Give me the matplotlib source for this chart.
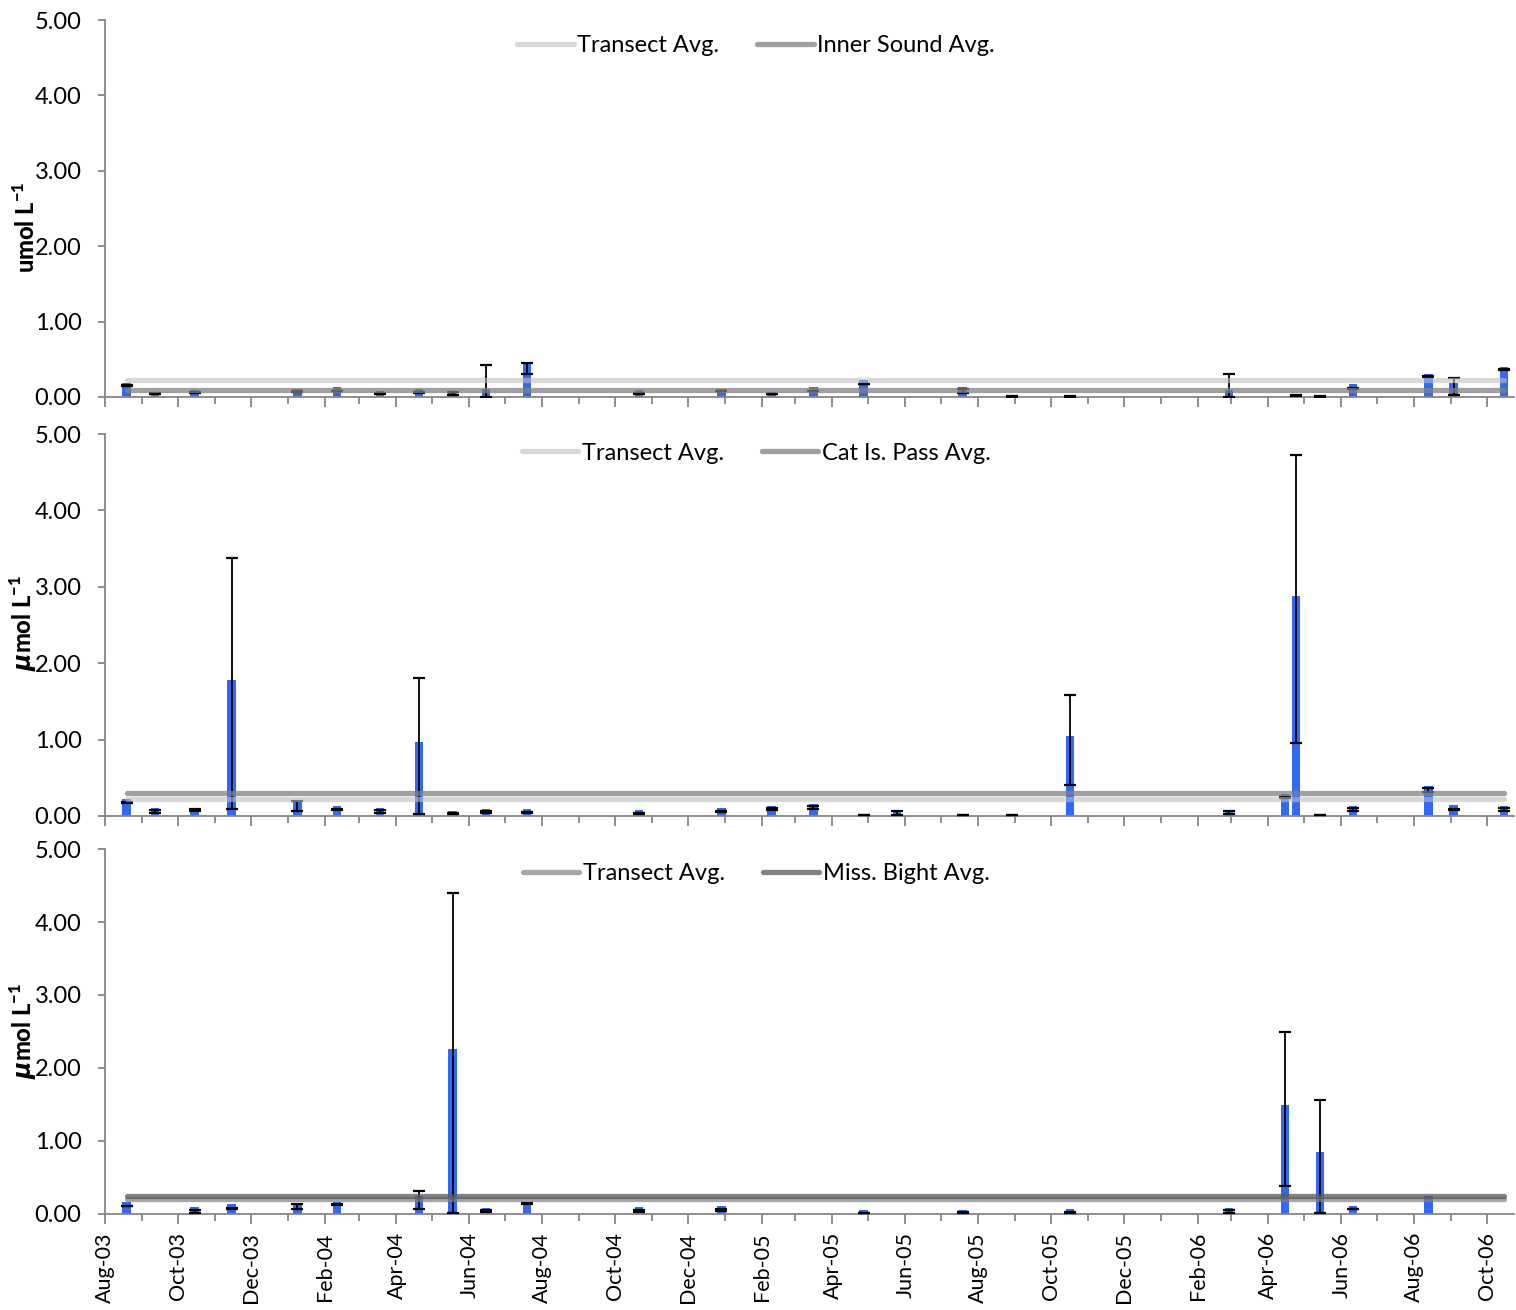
import numpy as np
import matplotlib.pyplot as plt
import matplotlib.dates as mdates
from matplotlib.ticker import FormatStrFormatter, MultipleLocator

plt.rcParams['font.family'] = ['Lato', 'DejaVu Sans']
plt.rcParams['mathtext.fontset'] = 'custom'
plt.rcParams['mathtext.rm'] = 'Lato'
plt.rcParams['mathtext.it'] = 'DejaVu Sans:italic:bold'

nan = np.nan

# sampling dates (shared by the three stations)
dates = np.array([
    '2003-08-19', '2003-09-12', '2003-10-15', '2003-11-15', '2004-01-09',
    '2004-02-11', '2004-03-18', '2004-04-20', '2004-05-18', '2004-06-15',
    '2004-07-19', '2004-10-21', '2004-12-29', '2005-02-09', '2005-03-16',
    '2005-04-27', '2005-05-25', '2005-07-19', '2005-08-29', '2005-10-17',
    '2006-02-27', '2006-04-15', '2006-04-24', '2006-05-14', '2006-06-11',
    '2006-08-13', '2006-09-03', '2006-10-15'], dtype='datetime64[D]')

# Inner Sound
inner_mean = [0.18, 0.06, 0.09, nan, 0.10, 0.13, 0.08, 0.10, 0.08, 0.11,
              0.44, 0.09, 0.11, 0.07, 0.13, 0.22, nan, 0.13, 0.03, 0.005,
              0.09, nan, 0.02, 0.005, 0.17, 0.31, 0.18, 0.40]
inner_lo = [0.145, 0.045, 0.055, nan, 0.065, 0.075, 0.045, 0.055, 0.03, 0.0,
            0.30, 0.045, 0.075, 0.035, 0.075, 0.165, nan, 0.05, 0.005, 0.004,
            0.0, nan, 0.018, 0.004, 0.105, 0.265, 0.02, 0.355]
inner_hi = [0.155, 0.055, 0.065, nan, 0.075, 0.085, 0.055, 0.065, 0.07, 0.42,
            0.45, 0.055, 0.085, 0.045, 0.085, 0.175, nan, 0.11, 0.015, 0.006,
            0.30, nan, 0.022, 0.006, 0.115, 0.275, 0.25, 0.365]
inner_avg = 0.09
transect_avg_1 = 0.22

# Cat Island Pass
cat_mean = [0.22, 0.11, 0.11, 1.78, 0.19, 0.13, 0.10, 0.97, 0.07, 0.09,
            0.09, 0.08, 0.10, 0.13, 0.16, 0.01, 0.06, 0.03, 0.01, 1.05,
            0.08, 0.29, 2.88, 0.01, 0.13, 0.39, 0.14, 0.13]
cat_lo = [0.175, 0.035, 0.06, 0.09, 0.06, 0.085, 0.035, 0.03, 0.025, 0.035,
          0.045, 0.03, 0.055, 0.08, 0.09, 0.008, 0.01, 0.008, 0.008, 0.40,
          0.03, 0.235, 0.96, 0.008, 0.06, 0.31, 0.085, 0.06]
cat_hi = [0.185, 0.08, 0.09, 3.38, 0.19, 0.095, 0.08, 1.81, 0.035, 0.07,
          0.055, 0.04, 0.065, 0.10, 0.13, 0.012, 0.065, 0.015, 0.012, 1.59,
          0.07, 0.245, 4.72, 0.012, 0.11, 0.37, 0.095, 0.11]
cat_avg = 0.30
transect_avg_2 = 0.22

# Mississippi Bight
bight_mean = [0.16, nan, 0.09, 0.13, 0.15, 0.17, nan, 0.25, 2.26, 0.08,
              0.17, 0.09, 0.11, nan, nan, 0.05, 0.003, 0.055, 0.003, 0.065,
              0.08, 1.49, nan, 0.85, 0.11, 0.25, nan, nan]
bight_lo = [0.105, nan, 0.02, 0.075, 0.07, 0.125, nan, 0.065, 0.02, 0.03,
            0.135, 0.03, 0.04, nan, nan, 0.01, nan, 0.02, nan, 0.02,
            0.02, 0.39, nan, 0.02, 0.065, nan, nan, nan]
bight_hi = [0.115, nan, 0.055, 0.085, 0.14, 0.135, nan, 0.31, 4.40, 0.06,
            0.145, 0.05, 0.075, nan, nan, 0.02, nan, 0.03, nan, 0.03,
            0.05, 2.49, nan, 1.56, 0.075, nan, nan, nan]
bight_avg = 0.25
transect_avg_3 = 0.21

panels = [
    (inner_mean, inner_lo, inner_hi, transect_avg_1, inner_avg, 'Inner Sound Avg.',
     r'umol L$^{\mathregular{-1}}$', ('#bfbfbf', 0.6), ('#808080', 0.75), 0.45, 0.932),
    (cat_mean, cat_lo, cat_hi, transect_avg_2, cat_avg, 'Cat Is. Pass Avg.',
     r'$\mu$mol L$^{\mathregular{-1}}$', ('#bfbfbf', 0.6), ('#808080', 0.75), 0.505, 0.95),
    (bight_mean, bight_lo, bight_hi, transect_avg_3, bight_avg, 'Miss. Bight Avg.',
     r'$\mu$mol L$^{\mathregular{-1}}$', ('#808080', 0.7), ('#595959', 0.75), 0.5, 0.932),
]

fig = plt.figure(figsize=(15.16, 13.10), dpi=100)
boxes = [(0.697, 0.9847), (0.3771, 0.6687), (0.0733, 0.3519)]
left, right = 0.0693, 0.999
axis_col = '#868686'
bar_col = '#2e6af5'

for i, (mean, lo, hi, tavg, savg, sname, ylab, tcol, scol, ly, legy) in enumerate(panels):
    b, t = boxes[i]
    ax = fig.add_axes([left, b, right - left, t - b])
    mean = np.array(mean)
    lo = np.array(lo)
    hi = np.array(hi)

    ok = ~np.isnan(mean)
    ax.bar(dates[ok], mean[ok], width=7, color=bar_col, zorder=2)

    ok = ~np.isnan(lo)
    mid = (lo[ok] + hi[ok]) / 2
    ax.errorbar(dates[ok], mid, yerr=(hi[ok] - lo[ok]) / 2, fmt='none',
                ecolor='black', elinewidth=1.3, capsize=4.5, capthick=1.6, zorder=3)

    ax.plot(dates, [tavg] * len(dates), color=tcol[0], alpha=tcol[1], lw=3.8,
            solid_capstyle='round', zorder=4, label='Transect Avg.')
    ax.plot(dates, [savg] * len(dates), color=scol[0], alpha=scol[1], lw=3.8,
            solid_capstyle='round', zorder=4, label=sname)

    ax.set_ylim(0, 5)
    ax.set_xlim(np.datetime64('2003-08-01'), np.datetime64('2006-10-24'))
    ax.yaxis.set_major_locator(MultipleLocator(1))
    ax.yaxis.set_major_formatter(FormatStrFormatter('%.2f'))
    ax.xaxis.set_major_locator(mdates.MonthLocator(bymonth=[2, 4, 6, 8, 10, 12]))
    ax.xaxis.set_minor_locator(mdates.MonthLocator())
    ax.xaxis.set_major_formatter(mdates.DateFormatter('%b-%y'))

    for s in ['top', 'right']:
        ax.spines[s].set_visible(False)
    for s in ['left', 'bottom']:
        ax.spines[s].set_color(axis_col)
        ax.spines[s].set_linewidth(1.3)
    ax.tick_params(axis='both', which='major', direction='out', length=7,
                   width=1.3, color=axis_col)
    ax.tick_params(axis='y', which='major', length=5, pad=12, labelsize=17)
    ax.tick_params(axis='x', which='major', pad=6, labelsize=15.5)
    ax.tick_params(axis='x', which='minor', direction='out', length=5,
                   width=1.3, color=axis_col)
    if i < 2:
        ax.tick_params(axis='x', labelbottom=False)
    else:
        plt.setp(ax.get_xticklabels(), rotation=90)

    ax.set_ylabel(ylab, fontsize=17, fontweight='black')
    ax.yaxis.set_label_coords(-0.047, ly)

    ax.legend(loc='center', bbox_to_anchor=(0.462, legy),
              ncol=2, frameon=False, fontsize=17, handlelength=2.4,
              handletextpad=0.15, columnspacing=1.6)

fig.savefig('out.png', dpi=100)
